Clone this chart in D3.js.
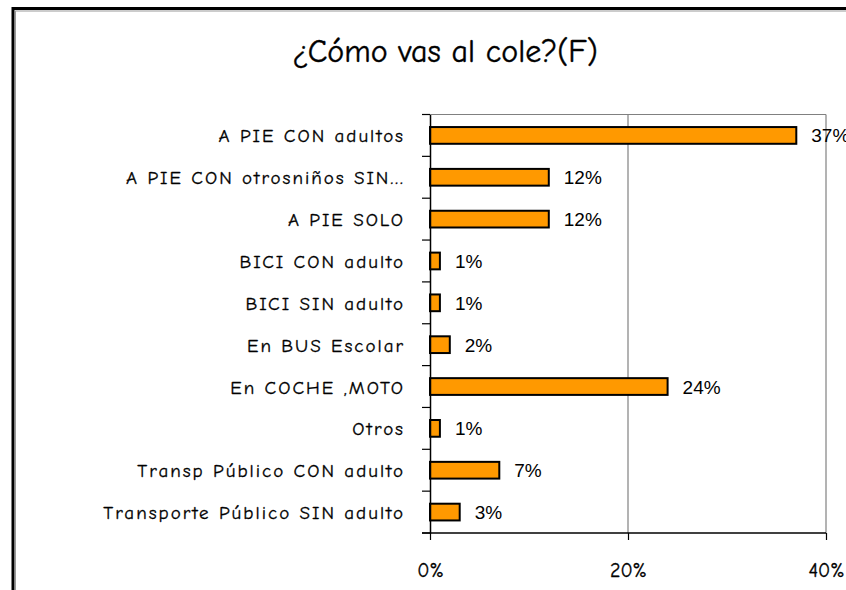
<!DOCTYPE html>
<html><head><meta charset="utf-8">
<script src="https://cdn.jsdelivr.net/npm/d3@7"></script>
<style>html,body{margin:0;padding:0;background:#fff;overflow:hidden}</style>
</head><body>
<svg id="c" width="846" height="590"></svg>
<script>
const categories = ["A PIE CON adultos","A PIE CON otrosniños SIN…","A PIE SOLO","BICI CON adulto","BICI SIN adulto","En BUS Escolar","En COCHE ,MOTO","Otros","Transp Público CON adulto","Transporte Público SIN adulto"];
const values = [37,12,12,1,1,2,24,1,7,3];
const xTicks = [0,20,40];
const title = "¿Cómo vas al cole?(F)";

const svg = d3.select("#c");
const comic = "'Comic Sans MS','Comic Neue','DejaVu Sans',sans-serif";
const arial = "'Liberation Sans',Arial,sans-serif";

// outer frame
svg.append("rect").attr("x",13).attr("y",8.5).attr("width",900).attr("height",700)
  .attr("fill","none").attr("stroke","#000").attr("stroke-width",3);
svg.append("rect").attr("x",15.5).attr("y",11).attr("width",900).attr("height",700)
  .attr("fill","none").attr("stroke","#999").attr("stroke-width",1);

svg.append("text").attr("x",445).attr("y",62).attr("text-anchor","middle")
  .attr("font-family",comic).attr("font-size",32).attr("fill","#000")
  .attr("stroke","#000").attr("stroke-width",0.4).text(title);

const L=430, R=826, T=114.5, B=533;
const x = d3.scaleLinear().domain([0,40]).range([L,R]);
const y = d3.scaleBand().domain(categories).range([T,B]).paddingInner(0.6).paddingOuter(0.3);
const yb = d3.scaleBand().domain(categories).range([T,B]);

// gridlines + top border
const g = svg.append("g");
g.append("line").attr("x1",L).attr("x2",R).attr("y1",T).attr("y2",T).attr("stroke","#808080").attr("stroke-width",1.2);
g.selectAll(".grid").data(xTicks.slice(1)).join("line")
  .attr("x1",d=>x(d)).attr("x2",d=>x(d)).attr("y1",T).attr("y2",B)
  .attr("stroke","#808080").attr("stroke-width",1.2);

// bars
svg.selectAll(".bar").data(values).join("rect")
  .attr("x",L).attr("y",(d,i)=>y(categories[i]))
  .attr("width",d=>x(d)-L).attr("height",y.bandwidth())
  .attr("fill","#FF9900").attr("stroke","#000").attr("stroke-width",2);

// value labels
svg.selectAll(".vl").data(values).join("text")
  .attr("x",d=>x(d)+15).attr("y",(d,i)=>y(categories[i])+y.bandwidth()/2+7)
  .attr("font-family",arial).attr("font-size",19).attr("fill","#000")
  .text(d=>d+"%");

// y axis
const yAxis = d3.axisLeft(yb).tickSize(0).tickFormat("");
const ya = svg.append("g").attr("transform",`translate(${L},0)`).call(yAxis);
ya.select(".domain").attr("stroke","#000").attr("stroke-width",1.5);
svg.selectAll(".ct").data(d3.range(categories.length+1)).join("line")
  .attr("x1",L-8).attr("x2",L).attr("y1",i=>T+i*yb.step()).attr("y2",i=>T+i*yb.step())
  .attr("stroke","#000").attr("stroke-width",1.2);
svg.selectAll(".cl").data(categories).join("text")
  .attr("x",405).attr("y",d=>yb(d)+yb.bandwidth()/2+7)
  .attr("text-anchor","end").attr("font-family",comic).attr("font-size",19)
  .attr("letter-spacing",2).attr("fill","#000")
  .attr("stroke","#000").attr("stroke-width",0.3)
  .text(d=>d);

// x axis
const xAxis = d3.axisBottom(x).tickValues(xTicks).tickSize(7).tickFormat(d=>d+"%");
const xa = svg.append("g").attr("transform",`translate(0,${B})`).call(xAxis);
xa.select(".domain").attr("d",`M${L-8},0H${R}`).attr("stroke","#000").attr("stroke-width",1.5);
xa.selectAll(".tick line").attr("stroke","#000").attr("stroke-width",1.2);
xa.selectAll(".tick text").attr("dy",0).attr("y",44).attr("font-family",comic).attr("font-size",20)
  .attr("fill","#000").attr("stroke","#000").attr("stroke-width",0.3);
</script>
</body></html>
